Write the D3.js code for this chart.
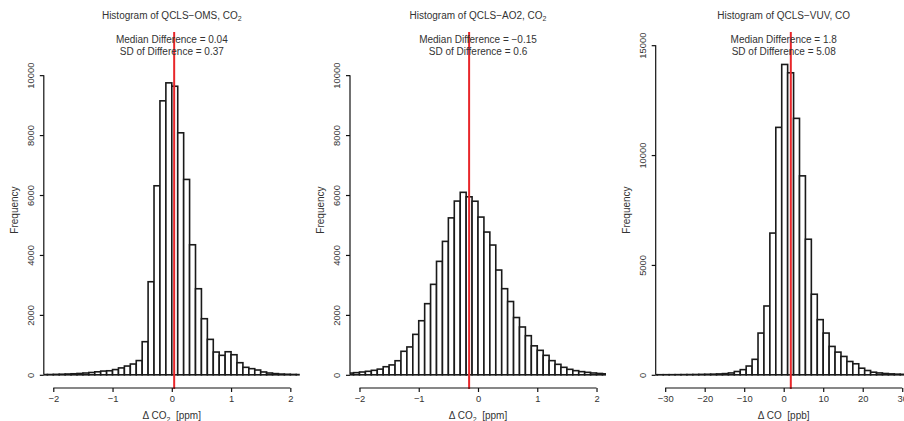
<!DOCTYPE html>
<html><head><meta charset="utf-8">
<script src="https://cdn.jsdelivr.net/npm/d3@7"></script>
<style>
body{margin:0;background:#fff}
svg{display:block}
text{font-family:"Liberation Sans",Arial,Helvetica,sans-serif;fill:#333}
</style>
</head><body>
<svg id="c" width="904" height="421"></svg>
<script>
// ---------- data ----------
const titles = ["Histogram of QCLS\u2212OMS, CO", "Histogram of QCLS\u2212AO2, CO", "Histogram of QCLS\u2212VUV, CO"];
const titleSubs = ["2", "2", ""];
const medians = [0.04, -0.15, 1.8];
const medianLabels = ["0.04", "\u22120.15", "1.8"];
const sdLabels = ["0.37", "0.6", "5.08"];
const xLabelMain = ["\u0394 CO", "\u0394 CO", "\u0394 CO"];
const xLabelSubs = ["2", "2", ""];
const xLabelUnits = ["[ppm]", "[ppm]", "[ppb]"];

// QCLS-OMS CO2: bins of 0.1 ppm starting at -2.2
const omsBinStart = -2.2, omsBinWidth = 0.1;
const omsCounts = [8, 10, 15, 20, 27, 35, 45, 60, 78, 100, 125, 135, 175, 230, 293, 360, 475,
  1105, 3106, 6308, 9143, 9743, 9630, 8076, 6520, 4340, 2872, 1872, 1183, 760, 650, 770, 670,
  404, 250, 205, 160, 95, 60, 40, 25, 18, 12, 8];

// QCLS-AO2 CO2: bins of 0.1 ppm starting at -2.2
const ao2BinStart = -2.2, ao2BinWidth = 0.1;
const ao2Counts = [58, 72, 94, 117, 150, 190, 270, 330, 470, 785, 930, 1350, 1805, 2374, 3019,
  3786, 4453, 5237, 5798, 6090, 5940, 5793, 5264, 4764, 4331, 3497, 2874, 2446, 1912, 1596,
  1306, 967, 817, 650, 473, 350, 250, 183, 139, 106, 83, 61, 45, 33];

// QCLS-VUV CO: bins of 1.5 ppb starting at -33.5
const vuvBinStart = -33.5, vuvBinWidth = 1.5;
const vuvCounts = [3, 4, 5, 6, 8, 10, 12, 15, 20, 25, 30, 40, 55, 85, 151, 235, 400, 705, 1900,
  3132, 6450, 11260, 14123, 13744, 11670, 9054, 6170, 3667, 2511, 1900, 1292, 1033, 836, 607,
  502, 301, 196, 119, 85, 60, 42, 30, 22, 15];

const xLims = [[-2, 2], [-2, 2], [-30, 30]];
const yMaxes = [11000, 11000, 15000];
const xTicks = [[-2, -1, 0, 1, 2], [-2, -1, 0, 1, 2], [-30, -20, -10, 0, 10, 20, 30]];
const yTicks = [[0, 2000, 4000, 6000, 8000, 10000], [0, 2000, 4000, 6000, 8000, 10000], [0, 5000, 10000, 15000]];

const binStarts = [omsBinStart, ao2BinStart, vuvBinStart];
const binWidths = [omsBinWidth, ao2BinWidth, vuvBinWidth];
const countsList = [omsCounts, ao2Counts, vuvCounts];

// ---------- layout ----------
const plotLefts = [43.8, 350, 655.7];
const plotWidth = 256;
const plotTop = 32, plotBottom = 388;

const svg = d3.select("#c");
const defs = svg.append("defs");
const fmtInt = d3.format("d");

titles.forEach((t, i) => {
  const left = plotLefts[i], right = left + plotWidth;
  const [x0, x1] = xLims[i];
  const ex = 0.04 * (x1 - x0);
  const x = d3.scaleLinear().domain([x0 - ex, x1 + ex]).range([left, right]);
  const ym = yMaxes[i];
  const y = d3.scaleLinear().domain([-0.04 * ym, 1.04 * ym]).range([plotBottom, plotTop]);
  const cx = (left + right) / 2;

  defs.append("clipPath").attr("id", "clip" + i)
    .append("rect").attr("x", left).attr("y", plotTop)
    .attr("width", plotWidth).attr("height", plotBottom - plotTop);

  const g = svg.append("g");

  // bars
  const bins = countsList[i].map((c, k) => ({
    x0: binStarts[i] + k * binWidths[i],
    x1: binStarts[i] + (k + 1) * binWidths[i],
    c
  }));
  g.append("g").attr("clip-path", `url(#clip${i})`)
    .selectAll("rect").data(bins).join("rect")
    .attr("x", d => x(d.x0))
    .attr("width", d => x(d.x1) - x(d.x0))
    .attr("y", d => y(d.c))
    .attr("height", d => y(0) - y(d.c))
    .attr("fill", "#fff")
    .attr("stroke", "#1a1a1a")
    .attr("stroke-width", 1.6);

  // median line
  g.append("line")
    .attr("x1", x(medians[i])).attr("x2", x(medians[i]))
    .attr("y1", plotTop).attr("y2", plotBottom + 1)
    .attr("stroke", "#e8262a").attr("stroke-width", 2);

  // x axis
  const xa = g.append("g").attr("transform", `translate(0,${plotBottom})`)
    .call(d3.axisBottom(x).tickValues(xTicks[i]).tickSize(4).tickSizeOuter(0).tickPadding(3).tickFormat(fmtInt));
  xa.select(".domain").remove();
  xa.append("line")
    .attr("x1", x(xTicks[i][0])).attr("x2", x(xTicks[i][xTicks[i].length - 1]))
    .attr("stroke", "#111").attr("stroke-width", 1.2);
  xa.selectAll(".tick line").attr("stroke", "#111").attr("stroke-width", 1.2);
  xa.selectAll(".tick text").attr("font-size", 9.4).attr("fill", "#333")
    .attr("font-family", '"Liberation Sans",Arial,sans-serif');

  // y axis
  const ya = g.append("g").attr("transform", `translate(${left},0)`)
    .call(d3.axisLeft(y).tickValues(yTicks[i]).tickSize(4).tickSizeOuter(0).tickFormat(fmtInt));
  ya.select(".domain").remove();
  ya.append("line")
    .attr("y1", y(yTicks[i][0])).attr("y2", y(yTicks[i][yTicks[i].length - 1]))
    .attr("stroke", "#111").attr("stroke-width", 1.2);
  ya.selectAll(".tick line").attr("stroke", "#111").attr("stroke-width", 1.2);
  ya.selectAll(".tick text")
    .attr("transform", "rotate(-90)")
    .attr("x", 0).attr("y", -10).attr("dy", 0)
    .attr("text-anchor", "middle")
    .attr("font-size", 9.4).attr("fill", "#333")
    .attr("font-family", '"Liberation Sans",Arial,sans-serif');

  // y label
  g.append("text")
    .attr("transform", `translate(${left - 26},${(plotTop + plotBottom) / 2}) rotate(-90)`)
    .attr("text-anchor", "middle").attr("font-size", 10)
    .text("Frequency");

  // title
  const tt = g.append("text").attr("x", cx).attr("y", 18.5)
    .attr("text-anchor", "middle").attr("font-size", 10);
  tt.append("tspan").text(t);
  if (titleSubs[i]) tt.append("tspan").attr("font-size", 7).attr("dy", 2.5).text(titleSubs[i]);

  g.append("text").attr("x", cx).attr("y", 43.3)
    .attr("text-anchor", "middle").attr("font-size", 10)
    .text("Median Difference = " + medianLabels[i]);
  g.append("text").attr("x", cx).attr("y", 55.3)
    .attr("text-anchor", "middle").attr("font-size", 10)
    .text("SD of Difference = " + sdLabels[i]);

  // x label
  const xl = g.append("text").attr("x", cx).attr("y", 419)
    .attr("text-anchor", "middle").attr("font-size", 10);
  xl.append("tspan").text(xLabelMain[i]);
  if (xLabelSubs[i]) {
    xl.append("tspan").attr("font-size", 7).attr("dy", 2.5).text(xLabelSubs[i]);
    xl.append("tspan").attr("dy", -2.5).text("\u00a0\u00a0" + xLabelUnits[i]);
  } else {
    xl.append("tspan").text("\u00a0\u00a0" + xLabelUnits[i]);
  }
});
</script>
</body></html>
